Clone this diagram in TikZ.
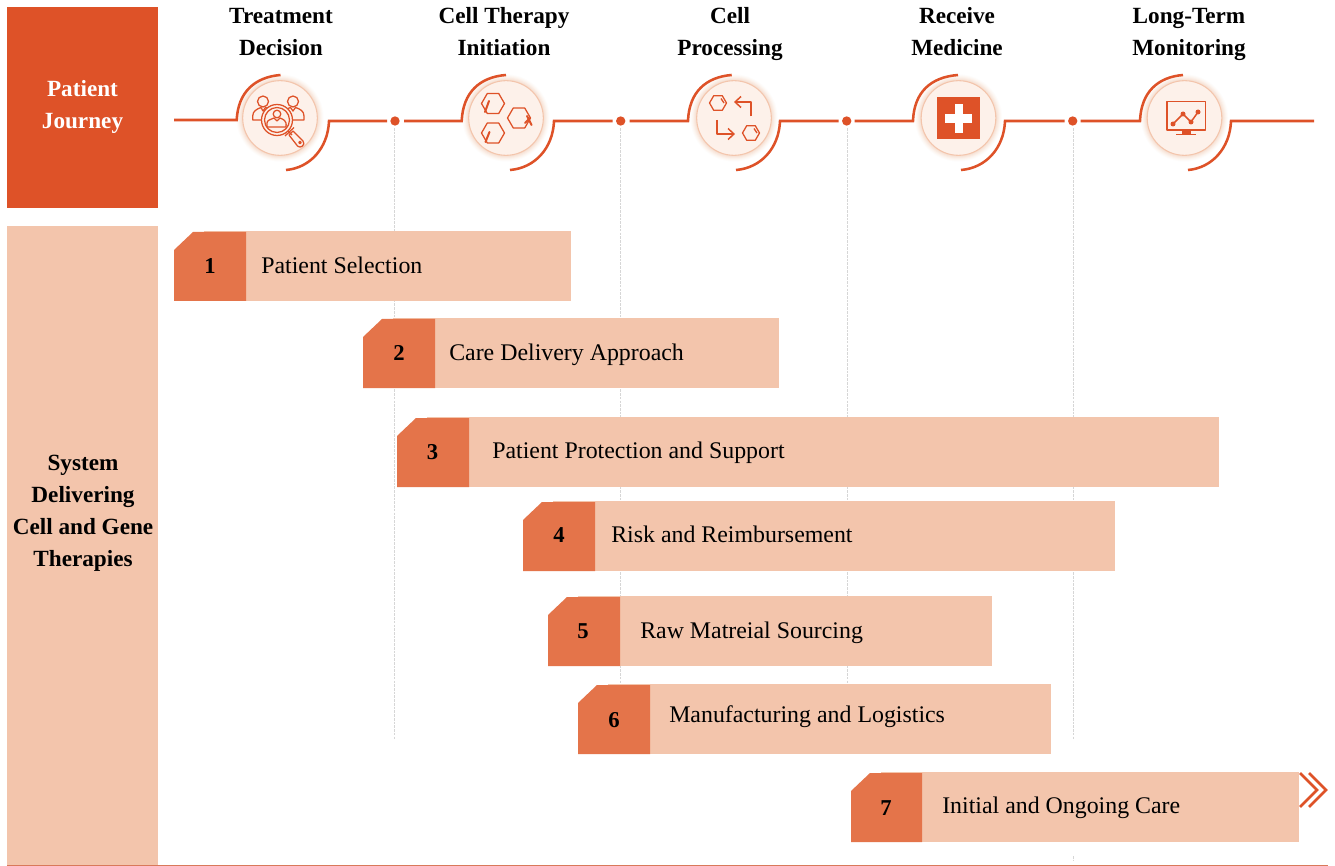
\documentclass[tikz,border=0pt]{standalone}
\usepackage{fontspec}
\setmainfont{Liberation Serif}
\usetikzlibrary{calc}
\definecolor{brand}{HTML}{DE5228}
\definecolor{pale}{HTML}{F3C5AC}
\definecolor{mid}{HTML}{E4744A}
\definecolor{disc}{HTML}{FDF1EA}
\definecolor{guide}{HTML}{D6D6D6}
\definecolor{baseline}{HTML}{D9795A}
\newcommand{\tline}[1]{\strut #1}
\tikzset{
  x=0.75pt,y=-0.75pt,
  paneltext/.style={align=center,inner sep=0pt,font=\fontsize{17.4}{24}\selectfont\bfseries},
  heading/.style={align=center,inner sep=0pt,font=\fontsize{17.4}{24}\selectfont\bfseries,text=black},
  barbody/.style={fill=pale,draw=none},
  barnum/.style={fill=mid,draw=none},
  numtext/.style={inner sep=0pt,yshift=-2.2pt,font=\fontsize{17}{20}\selectfont\bfseries,text=black},
  bartext/.style={anchor=west,inner sep=0pt,yshift=-2.2pt,font=\fontsize{17.9}{20}\selectfont,text=black},
  rail/.style={draw=brand,line width=1.9pt},
  dotn/.style={circle,fill=brand,draw=none,minimum size=7pt,inner sep=0pt},
  guideline/.style={draw=guide,line width=0.6pt,dash pattern=on 2pt off 0.8pt},
  icon/.style={draw=brand,line width=0.95pt,fill=none,line join=round},
  iconb/.style={draw=brand,line width=1.5pt,line cap=round}
}
\newcommand{\hexa}[3]{\draw[icon] (#1-#3,#2) -- (#1-#3/2,#2-0.866*#3) -- (#1+#3/2,#2-0.866*#3) -- (#1+#3,#2) -- (#1+#3/2,#2+0.866*#3) -- (#1-#3/2,#2+0.866*#3) -- cycle;}
\newcommand{\stagedisc}[2]{%
  \foreach \gl/\op in {6/0.05,5/0.07,4/0.09,3/0.12,2/0.15,1/0.2}{
    \fill[pale,opacity=\op] (#2,118) circle[radius=37.5+\gl];
  }
  \node[circle,draw=pale,line width=0.8pt,fill=disc,minimum size=56pt,inner sep=0pt] (#1) at (#2,118) {};
}
% text, x0, y0, x split, x end, (num pos), (text pos), number
\newcommand{\planbar}[8]{%
  \fill[barbody] (#2+30,#3) rectangle (#5,#3+70);
  \fill[barnum] (#2,#3+19) -- (#2+19,#3+1) -- (#4,#3+1) -- (#4,#3+70) -- (#2,#3+70) -- cycle;
  \node[numtext] (bar#8n) at (#6) {\strut #8};
  \node[bartext] (bar#8t) at (#7) {\strut #1};
}
\begin{document}
\begin{tikzpicture}
\useasboundingbox (0,0) rectangle (1335,866);
\fill[white] (0,0) rectangle (1335,866);

% guides
\draw[guideline] (394,128) -- (394,740);
\draw[guideline] (620.5,128) -- (620.5,684);
\draw[guideline] (847,128) -- (847,684);
\draw[guideline] (1073,128) -- (1073,740);
\draw[guideline] (1073,856) -- (1073,860);

% side panels
\fill[brand] (7,7) rectangle (158,208);
\fill[pale] (7,226) rectangle (158,865);
\node[paneltext,text=white] (journey) at (82.5,106) {\tline{Patient}\\\tline{Journey}};
\node[paneltext,text=black] (system) at (83,512) {\tline{System}\\\tline{Delivering}\\\tline{Cell and Gene}\\\tline{Therapies}};

\draw[draw=baseline,line width=0.75pt] (7,865.3) -- (1328,865.3);

% headings
\node[heading] (h1) at (281,33.5) {\tline{Treatment}\\\tline{Decision}};
\node[heading] (h2) at (504,33.5) {\tline{Cell Therapy}\\\tline{Initiation}};
\node[heading] (h3) at (730,33.5) {\tline{Cell}\\\tline{Processing}};
\node[heading] (h4) at (957,33.5) {\tline{Receive}\\\tline{Medicine}};
\node[heading] (h5) at (1189,33.5) {\tline{Long-Term}\\\tline{Monitoring}};

% discs
\stagedisc{s1}{280}
\stagedisc{s2}{506}
\stagedisc{s3}{734}
\stagedisc{s4}{958.5}
\stagedisc{s5}{1184.5}

% dots
\node[dotn] (d1) at (395,121) {};
\node[dotn] (d2) at (620.7,121) {};
\node[dotn] (d3) at (846.7,121) {};
\node[dotn] (d4) at (1072.7,121) {};

% rails
\coordinate (start) at (174,120);
\coordinate (finish) at (1314,121);
\draw[rail] (start) -- (236.7,120) .. controls (238,92) and (255,77) .. (280.5,75);
\draw[rail] (286,170) .. controls (310,168) and (328,148) .. (329,121) -- ($(d1)+(-8,0)$);
\draw[rail] ($(d1)+(9,0)$) -- (461.7,121) .. controls (463,92) and (480,77) .. (506,75);
\draw[rail] (510,170) .. controls (535,168) and (553,148) .. (554,121) -- ($(d2)+(-8,0)$);
\draw[rail] ($(d2)+(9,0)$) -- (688,121) .. controls (689,92) and (706,77) .. (731.7,75);
\draw[rail] (736,170) .. controls (761,168) and (779,148) .. (780,121) -- ($(d3)+(-8,0)$);
\draw[rail] ($(d3)+(8,0)$) -- (913,121) .. controls (914,92) and (931,77) .. (958,75);
\draw[rail] (961,170) .. controls (986,168) and (1004,148) .. (1005,121) -- ($(d4)+(-8,0)$);
\draw[rail] ($(d4)+(8,0)$) -- (1140,121) .. controls (1141,92) and (1158,77) .. (1183,75);
\draw[rail] (1188,170) .. controls (1212,168) and (1230,148) .. (1231,121) -- (finish);

% icon 1: people and magnifier
\draw[icon] (263,101.5) circle[radius=5.5];
\draw[icon] (293,101.5) circle[radius=5.5];
\draw[icon] (270,120) -- (252.7,120) -- (252.7,116) .. controls (252.7,111) and (257,109) .. (261,107.5) -- (263,111) -- (265.5,107.5) -- (268,108.5);
\draw[icon] (288,108.5) -- (290.5,107.5) -- (293,111) -- (295.5,107.5) .. controls (300,109) and (304,111) .. (304,116) -- (304,120) -- (292,120);
\draw[icon,fill=disc] (277,120) circle[radius=15.5];
\draw[icon] (277,120) circle[radius=12.5];
\draw[icon] (277,114) circle[radius=3.8];
\draw[icon] (267,127) -- (267,123) .. controls (267,120) and (271,119.5) .. (274,118) -- (277,121) -- (280,118) .. controls (283,119.5) and (287,120) .. (286,127) -- cycle;
\draw[icon] (288,131) -- (292,135);
\draw[icon] (285,136) -- (294,127.5);
\draw[icon] (289,135) -- (293,131) -- (303,141) .. controls (304.5,143) and (304,145) .. (302.5,146) .. controls (301,147.5) and (299,147.5) .. (297.5,146) -- cycle;
\draw[icon] (300,142.5) circle[radius=1.2];

% icon 2: three hexagons
\hexa{493}{103.5}{11.5}
\hexa{519}{118}{11.5}
\hexa{493}{133}{11.5}
\draw[iconb] (489,101) -- (485,112);
\draw[iconb] (489.5,132) -- (485.5,142);
\draw[iconb] (527,116) -- (531.5,125);
\draw[iconb] (525,123) -- (530,118);

% icon 3: hexagons and arrows
\hexa{718}{103}{8.5}
\hexa{751}{133}{8.5}
\draw[icon] (721,98.5) -- (724,103);
\draw[icon] (754,128.5) -- (757,133);
\draw[icon,line width=1.1pt] (751,116.5) -- (751,102) -- (735,102);
\draw[icon,line width=1.1pt] (741,96.5) -- (735,102) -- (741,107.5);
\draw[icon,line width=1.1pt] (717,120) -- (717,134) -- (734,134);
\draw[icon,line width=1.1pt] (728,128.5) -- (734,134) -- (728,139.5);

% icon 4: medical cross
\fill[brand] (937,97) rectangle (980,139);
\fill[white] (955,104) rectangle (963,133);
\fill[white] (945,114.5) rectangle (972,123);

% icon 5: monitor
\draw[icon,line width=1.1pt] (1167,101.5) rectangle (1205.5,130);
\fill[brand] (1182,130) rectangle (1191,134);
\fill[brand] (1176,134) rectangle (1196,135.5);
\draw[icon,line width=1.1pt] (1173,124) -- (1183,114) -- (1191,122) -- (1198,112);
\foreach \px/\py in {1173/124,1183/114,1191/122,1198/112}{
  \fill[brand] (\px,\py) circle[radius=2.5];
}

% bars
\planbar{Patient Selection}{174}{231}{246}{571}{210,265}{261,265}{1}
\planbar{Care Delivery Approach}{363}{318}{435}{779}{399,352}{449,352}{2}
\planbar{Patient Protection and Support}{397}{417}{469}{1219}{432.5,451}{492,450}{3}
\planbar{Risk and Reimbursement}{523}{501}{595}{1115}{559,534}{611,534}{4}
\planbar{Raw Matreial Sourcing}{548}{596}{620}{992}{583,630}{640,630}{5}
\planbar{Manufacturing and Logistics}{578}{684}{650}{1051}{614,719}{669,714}{6}
\planbar{Initial and Ongoing Care}{851}{772}{922}{1299}{886,807}{942,805}{7}

% chevrons
\draw[brand,line width=1.9pt,miter limit=10] (1300,773) -- (1317,790) -- (1300,807);
\draw[brand,line width=1.9pt,miter limit=10] (1309,773) -- (1326,790) -- (1309,807);
\end{tikzpicture}
\end{document}
